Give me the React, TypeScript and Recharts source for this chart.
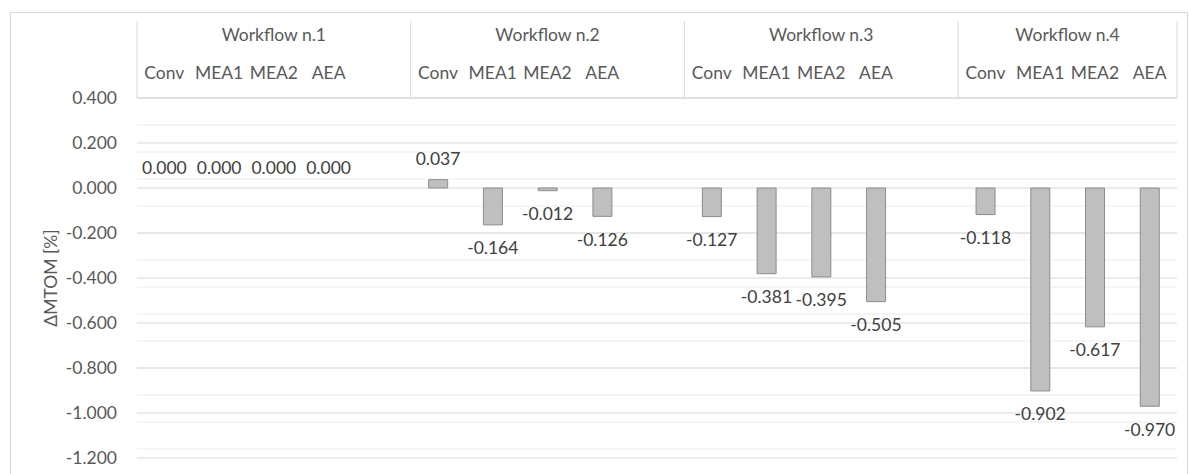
import React from "react";
import { ComposedChart, Bar, Line, XAxis, YAxis, CartesianGrid, LabelList } from "recharts";

const workflows = ["Workflow n.1", "Workflow n.2", "Workflow n.3", "Workflow n.4"];
const configs = ["Conv", "MEA1", "MEA2", "AEA"];
const wf1 = [0.0, 0.0, 0.0, 0.0];
const wf2 = [0.037, -0.164, -0.012, -0.126];
const wf3 = [-0.127, -0.381, -0.395, -0.505];
const wf4 = [-0.118, -0.902, -0.617, -0.97];
const yTicks = [-1.2, -1.0, -0.8, -0.6, -0.4, -0.2, 0, 0.2, 0.4];

const FONT = "Lato, 'Open Sans', sans-serif";
const TEXT = "#595959";
const FS = 17.5;

type Row = { key: string; group: number; sub: string; pos: number; size: number; v: number | null };

// excel leaves an empty slot after each workflow except the last one
const rows: Row[] = [];
[wf1, wf2, wf3, wf4].forEach((vals, gi) => {
  const last = gi === workflows.length - 1;
  const size = last ? configs.length : configs.length + 1;
  configs.forEach((c, ci) => {
    rows.push({ key: `${gi}-${ci}`, group: gi, sub: c, pos: ci, size, v: vals[ci] });
  });
  if (!last) rows.push({ key: `${gi}-gap`, group: gi, sub: "", pos: configs.length, size, v: null });
});
const rowByKey: Record<string, Row> = {};
rows.forEach((r) => (rowByKey[r.key] = r));

// minor gridlines every 0.04
const minorTicks: number[] = [];
for (let i = 0; i <= 40; i++) minorTicks.push(Math.round((-1.2 + i * 0.04) * 100) / 100);

function HeaderTick(props: any) {
  const { x, y, payload } = props;
  const row = rowByKey[payload.value];
  if (!row) return null;
  const half = payload.offset || 27.37;
  const isLast = row.key === rows[rows.length - 1].key;
  return (
    <g>
      {row.pos === 0 && (
        <>
          <line x1={x - half} x2={x - half} y1={y - 77} y2={y} stroke="#d9d9d9" />
          <text
            x={x + (row.size - 1) * half}
            y={y - 64}
            textAnchor="middle"
            dominantBaseline="central"
            fill={TEXT}
            fontSize={FS}
            fontFamily={FONT}
          >
            {workflows[row.group]}
          </text>
        </>
      )}
      {isLast && <line x1={x + half} x2={x + half} y1={y - 77} y2={y} stroke="#d9d9d9" />}
      {row.sub && (
        <text x={x} y={y - 26} textAnchor="middle" dominantBaseline="central" fill={TEXT} fontSize={FS} fontFamily={FONT}>
          {row.sub}
        </text>
      )}
    </g>
  );
}

// labels hang off an invisible line so zero values still get one
function ValueLabel(props: any) {
  const { x, y, value } = props;
  if (value === null || value === undefined) return null;
  const ly = value < 0 ? y + 23 : y - 21;
  return (
    <text x={x} y={ly} textAnchor="middle" dominantBaseline="central" fill="#404040" fontSize={FS} fontFamily={FONT}>
      {Number(value).toFixed(3)}
    </text>
  );
}

export default function App() {
  return (
    <div style={{ position: "absolute", left: 0, top: 0, width: 1189, height: 474, background: "#fff", fontFamily: FONT }}>
      <div
        style={{
          position: "absolute",
          left: 10,
          top: 12,
          width: 1176,
          height: 480,
          border: "1px solid #d9d9d9",
        }}
      />
      <div style={{ position: "absolute", left: 0, top: 0 }}>
        <ComposedChart width={1189} height={474} data={rows} margin={{ top: 21, right: 12, bottom: 16, left: 0 }}>
          <CartesianGrid vertical={false} horizontalValues={minorTicks} stroke="#ececec" />
          <CartesianGrid vertical={false} horizontalValues={yTicks} stroke="#d9d9d9" />
          <XAxis
            dataKey="key"
            orientation="top"
            height={77}
            interval={0}
            tickLine={false}
            tickSize={0}
            tickMargin={0}
            axisLine={{ stroke: "#d9d9d9" }}
            tick={<HeaderTick />}
          />
          <YAxis
            width={137}
            domain={[-1.2, 0.4]}
            ticks={yTicks}
            allowDataOverflow
            axisLine={false}
            tickLine={false}
            tickSize={0}
            tickMargin={20}
            tickFormatter={(v: number) => v.toFixed(3)}
            tick={{ fill: TEXT, fontSize: FS, fontFamily: FONT }}
            label={(p: any) => {
              const vb = p.viewBox || { x: 0, y: 98, height: 360 };
              const cx = 50;
              const cy = vb.y + vb.height / 2;
              return (
                <text
                  x={cx}
                  y={cy}
                  transform={`rotate(-90 ${cx} ${cy})`}
                  textAnchor="middle"
                  dominantBaseline="central"
                  fill={TEXT}
                  fontSize={FS}
                  fontFamily={FONT}
                >
                  ΔMTOM [%]
                </text>
              );
            }}
          />
          <Bar dataKey="v" barSize={19} fill="#bfbfbf" stroke="#8c8c8c" strokeWidth={1} isAnimationActive={false} />
          <Line
            dataKey="v"
            stroke="none"
            dot={false}
            activeDot={false}
            legendType="none"
            isAnimationActive={false}
          >
            <LabelList dataKey="v" content={<ValueLabel />} />
          </Line>
        </ComposedChart>
      </div>
    </div>
  );
}
